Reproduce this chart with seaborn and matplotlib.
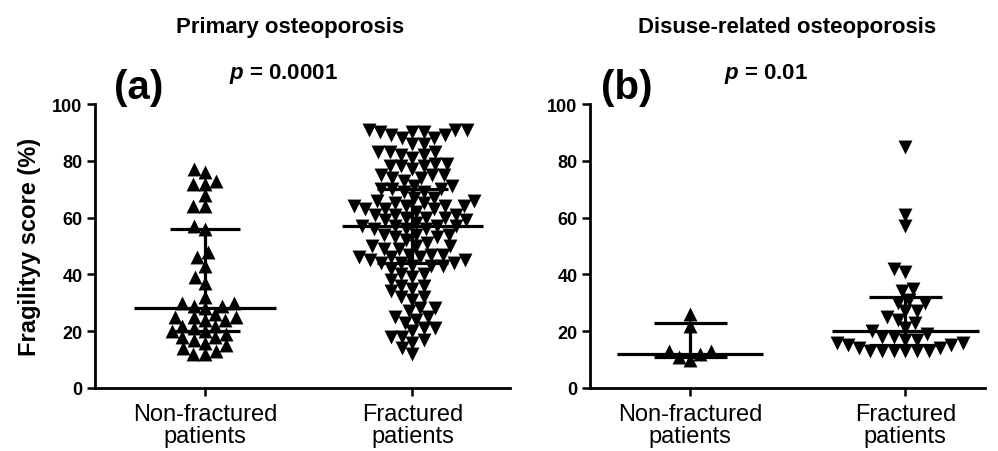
import numpy as np
import pandas as pd
import matplotlib
matplotlib.use("Agg")
import matplotlib.pyplot as plt
from matplotlib.path import Path
import seaborn as sns

# ---------------- data ----------------
categories = ["Non-fractured\npatients", "Fractured\npatients"]
panel_titles = ["Primary osteoporosis", "Disuse-related osteoporosis"]
panel_letters = ["(a)", "(b)"]
panel_pvalues = ["0.0001", "0.01"]

primary_nonfractured = [77, 76, 73, 72, 72, 68, 64, 64, 57, 56, 48, 46, 43, 39,
                        37, 32, 30, 30, 29, 29, 28, 26, 25, 25, 25, 24, 24, 22,
                        22, 21, 20, 20, 19, 18, 18, 17, 16, 15, 14, 13, 12, 12]
primary_fractured = [91, 91, 90, 90, 91, 90, 89, 89, 88, 88, 86, 86,
                     83, 83, 82, 82, 83, 81, 79, 78, 78, 77, 79, 78,
                     75, 75, 74, 74, 73, 75, 71, 70, 70, 69, 70, 71, 69,
                     67, 66, 67, 66, 65, 64, 64, 63, 63, 64, 63, 62, 64, 65,
                     61, 60, 61, 60, 59, 61, 60, 59, 57, 57, 56, 57, 56, 58, 56, 57,
                     54, 53, 54, 53, 52, 54, 50, 50, 49, 51, 50, 49,
                     47, 46, 47, 46, 45, 47, 46, 45, 44, 44, 43, 43, 44, 42, 43,
                     40, 39, 40, 38, 36, 35, 36, 34, 32, 31, 32, 28, 27, 28,
                     25, 24, 25, 23, 21, 20, 21, 18, 17, 18, 16, 14, 12]
disuse_nonfractured = [26, 22, 13, 12, 13, 10, 11]
disuse_fractured = [85, 61, 57, 42, 41, 35, 34, 31, 30, 30, 27, 27, 25, 24,
                    23, 21, 20, 19, 18, 18, 17, 17, 16, 16, 15, 15, 14, 14,
                    13, 13, 13, 13, 13, 13]

primary_median = [28, 57]
primary_q1 = [20, 44]
primary_q3 = [56, 70]
disuse_median = [12, 20]
disuse_q1 = [11, 15]
disuse_q3 = [23, 32]

yticks = [0, 20, 40, 60, 80, 100]
ylabel = "Fragilityy score (%)"

# ---------------- style ----------------
sns.set_theme(style="ticks")
plt.rcParams["font.family"] = ["Liberation Sans", "DejaVu Sans"]
plt.rcParams["text.color"] = "black"
plt.rcParams["axes.labelcolor"] = "black"
plt.rcParams["xtick.color"] = "black"
plt.rcParams["ytick.color"] = "black"
plt.rcParams["mathtext.fontset"] = "custom"
plt.rcParams["mathtext.rm"] = "Liberation Sans:bold"
plt.rcParams["mathtext.it"] = "Liberation Sans:italic:bold"
plt.rcParams["mathtext.bf"] = "Liberation Sans:bold"

W, H = 998, 452
fig = plt.figure(figsize=(W / 100, H / 100), dpi=100)

def px_axes(l, r, b, t):
    return fig.add_axes([l / W, 1 - b / H, (r - l) / W, (b - t) / H])

ax_a = px_axes(95, 510, 389, 105)
ax_b = px_axes(590, 985, 389, 105)

panels = [
    (ax_a, [primary_nonfractured, primary_fractured], primary_median, primary_q1, primary_q3, (-0.53, 1.47)),
    (ax_b, [disuse_nonfractured, disuse_fractured], disuse_median, disuse_q1, disuse_q3, (-0.465, 1.37)),
]
markers = ["^", "v"]
MARKER_SCALE = 1.25

for ax, groups, med, q1, q3, xlim in panels:
    for i, (vals, mk) in enumerate(zip(groups, markers)):
        df = pd.DataFrame({"group": [categories[i]] * len(vals), "score": vals})
        n_before = len(ax.collections)
        sns.swarmplot(data=df, x="group", y="score", order=categories,
                      marker=mk, color="black", size=8.0, linewidth=0,
                      ax=ax, clip_on=False, zorder=2, warn_thresh=1.0)
        # enlarge the drawn glyphs (swarm spacing keeps the smaller footprint,
        # giving the overlapping look of the original)
        for coll in ax.collections[n_before:]:
            paths = coll.get_paths()
            if paths:
                coll.set_paths([Path(p.vertices * MARKER_SCALE, p.codes) for p in paths])
    pos = np.arange(len(categories))
    ax.hlines(med, pos - 0.34, pos + 0.34, color="black", lw=2.3, zorder=4)
    ax.hlines(q1, pos - 0.17, pos + 0.17, color="black", lw=2.3, zorder=4)
    ax.hlines(q3, pos - 0.17, pos + 0.17, color="black", lw=2.3, zorder=4)
    ax.vlines(pos, q1, q3, color="black", lw=2.3, zorder=4)

    ax.set_xlim(*xlim)
    ax.set_ylim(0, 100)
    ax.set_yticks(yticks)
    ax.set_yticklabels([str(t) for t in yticks], fontsize=13, fontweight="bold")
    ax.tick_params(axis="x", labelsize=17, length=6, width=1.8, color="black", pad=5)
    ax.tick_params(axis="y", length=6, width=1.8, color="black", pad=3)
    ax.set_xlabel("")
    ax.set_ylabel("")
    for s in ["top", "right"]:
        ax.spines[s].set_visible(False)
    for s in ["left", "bottom"]:
        ax.spines[s].set_linewidth(2.0)
        ax.spines[s].set_color("black")
    for lab in ax.get_xticklabels():
        lab.set_linespacing(1.0)
        lab.set_color("black")
    for lab in ax.get_yticklabels():
        lab.set_color("black")

ax_a.set_ylabel(ylabel, fontsize=17, fontweight="bold", labelpad=8, color="black")

# titles and annotations
title_x = [290, 787]
letter_x = [139, 627]
p_x = [283, 766]
for i in range(2):
    fig.text(title_x[i] / W, 1 - 28 / H, panel_titles[i], ha="center", va="center",
             fontsize=16, fontweight="bold", color="black")
    fig.text(letter_x[i] / W, 1 - 88 / H, panel_letters[i], ha="center", va="center",
             fontsize=29, fontweight="bold", color="black")
    fig.text(p_x[i] / W, 1 - 74 / H, r"$\it{p}$ = " + panel_pvalues[i], ha="center",
             va="center", fontsize=16, fontweight="bold", color="black")

fig.savefig("out.png", dpi=100)
